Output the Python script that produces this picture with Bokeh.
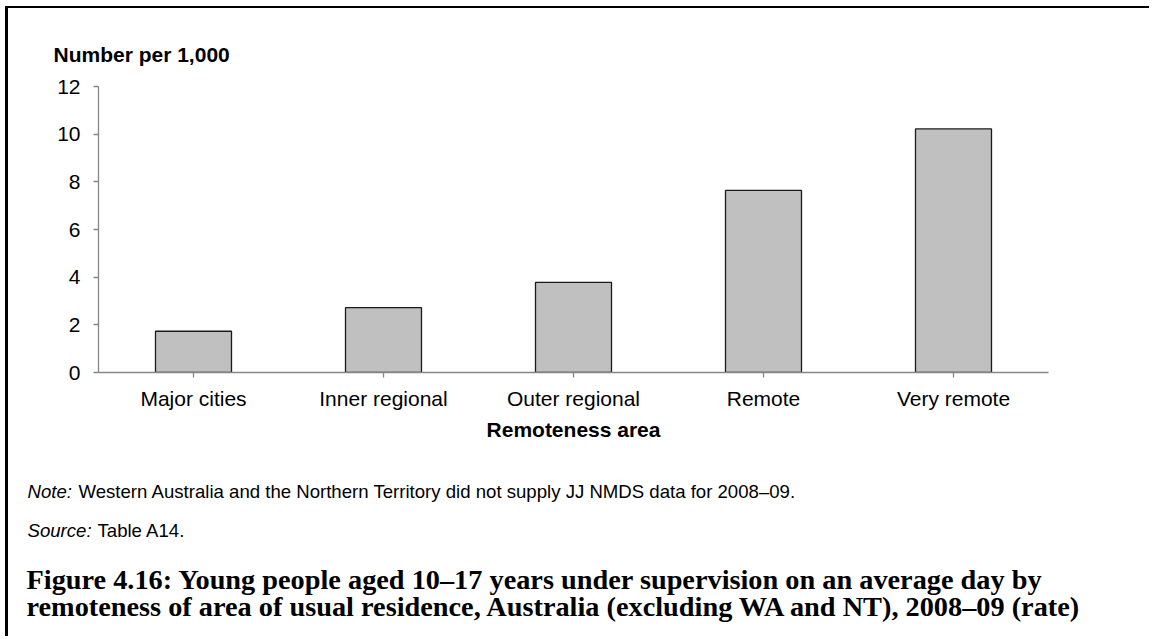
from bokeh.plotting import figure
from bokeh.models import Range1d, FixedTicker, Label
from bokeh.embed import file_html
from bokeh.resources import INLINE

categories = ["Major cities", "Inner regional", "Outer regional", "Remote", "Very remote"]
rates = [1.73, 2.72, 3.78, 7.64, 10.22]
y_ticks = [0, 2, 4, 6, 8, 10, 12]

y_title = "Number per 1,000"
x_title = "Remoteness area"
note_lead = "Note:"
note_text = "Western Australia and the Northern Territory did not supply JJ NMDS data for 2008\u201309."
source_lead = "Source:"
source_text = "Table A14."
fig_title_1 = "Figure 4.16: Young people aged 10\u201317 years under supervision on an average day by"
fig_title_2 = "remoteness of area of usual residence, Australia (excluding WA and NT), 2008\u201309 (rate)"

SANS = "Liberation Sans"
SERIF = "Liberation Serif"
W = 1144
TOP_H = 62
MAIN_H = 385
BOT_H = 183

side_style = {"border-left": "3px solid #000000", "margin-left": "5px"}


def text_fig(h):
    f = figure(width=W, height=h, x_range=Range1d(0, 1), y_range=Range1d(0, 1),
               x_axis_type=None, y_axis_type=None, min_border=0,
               min_border_left=0, min_border_right=0, min_border_top=0, min_border_bottom=0,
               toolbar_location=None, output_backend="svg")
    f.outline_line_color = None
    return f


def lab(f, x, y, text, font, size, style="normal"):
    f.add_layout(Label(x=x, y=y, x_units="screen", y_units="screen", text=text,
                       text_font=font, text_font_size=size, text_font_style=style,
                       text_color="#000000", text_baseline="alphabetic", text_align="left"))


# top strip: y-axis title
top = text_fig(TOP_H)
lab(top, 45, 16, y_title, SANS, "21px", "bold")
top.styles = dict(side_style, **{"border-top": "2px solid #000000", "margin-top": "6px"})

# main chart
p = figure(
    x_range=categories,
    y_range=Range1d(0, 12),
    width=W,
    height=MAIN_H,
    output_backend="svg",
    toolbar_location=None,
    min_border_left=90,
    min_border_right=W - 1040,
    min_border_top=18,
    min_border_bottom=81,
)
p.styles = dict(side_style)
p.vbar(x=categories, top=rates, width=0.4, fill_color="#C0C0C0",
       line_color="#1a1a1a", line_width=1.3)

p.outline_line_color = None
p.xgrid.grid_line_color = None
p.ygrid.grid_line_color = None
p.x_range.range_padding = 0

for ax in (p.xaxis[0], p.yaxis[0]):
    ax.axis_line_color = "#868686"
    ax.axis_line_width = 1.3
    ax.major_tick_line_color = "#868686"
    ax.major_tick_line_width = 1.3
    ax.major_tick_in = 0
    ax.major_tick_out = 5
    ax.minor_tick_line_color = None
    ax.major_label_text_font = SANS
    ax.major_label_text_font_size = "21px"
    ax.major_label_text_color = "#000000"

p.yaxis.ticker = FixedTicker(ticks=y_ticks)
p.yaxis.major_label_standoff = 13
p.xaxis.major_label_standoff = 9
p.xaxis.axis_label = x_title
p.xaxis.axis_label_text_font = SANS
p.xaxis.axis_label_text_font_size = "21px"
p.xaxis.axis_label_text_font_style = "bold"
p.xaxis.axis_label_text_color = "#000000"
p.xaxis.axis_label_standoff = 5

# bottom strip: note, source, figure caption
bot = text_fig(BOT_H)
bot.styles = dict(side_style)
lab(bot, 19, 145, note_lead, SANS, "18.6px", "italic")
lab(bot, 70, 145, note_text, SANS, "18.6px")
lab(bot, 19, 106, source_lead, SANS, "18.6px", "italic")
lab(bot, 89, 106, source_text, SANS, "18.6px")
lab(bot, 18, 57, fig_title_1, SERIF, "28.3px", "bold")
lab(bot, 18, 30, fig_title_2, SERIF, "28.3px", "bold")

open("out.html", "w").write(file_html([top, p, bot], INLINE))
